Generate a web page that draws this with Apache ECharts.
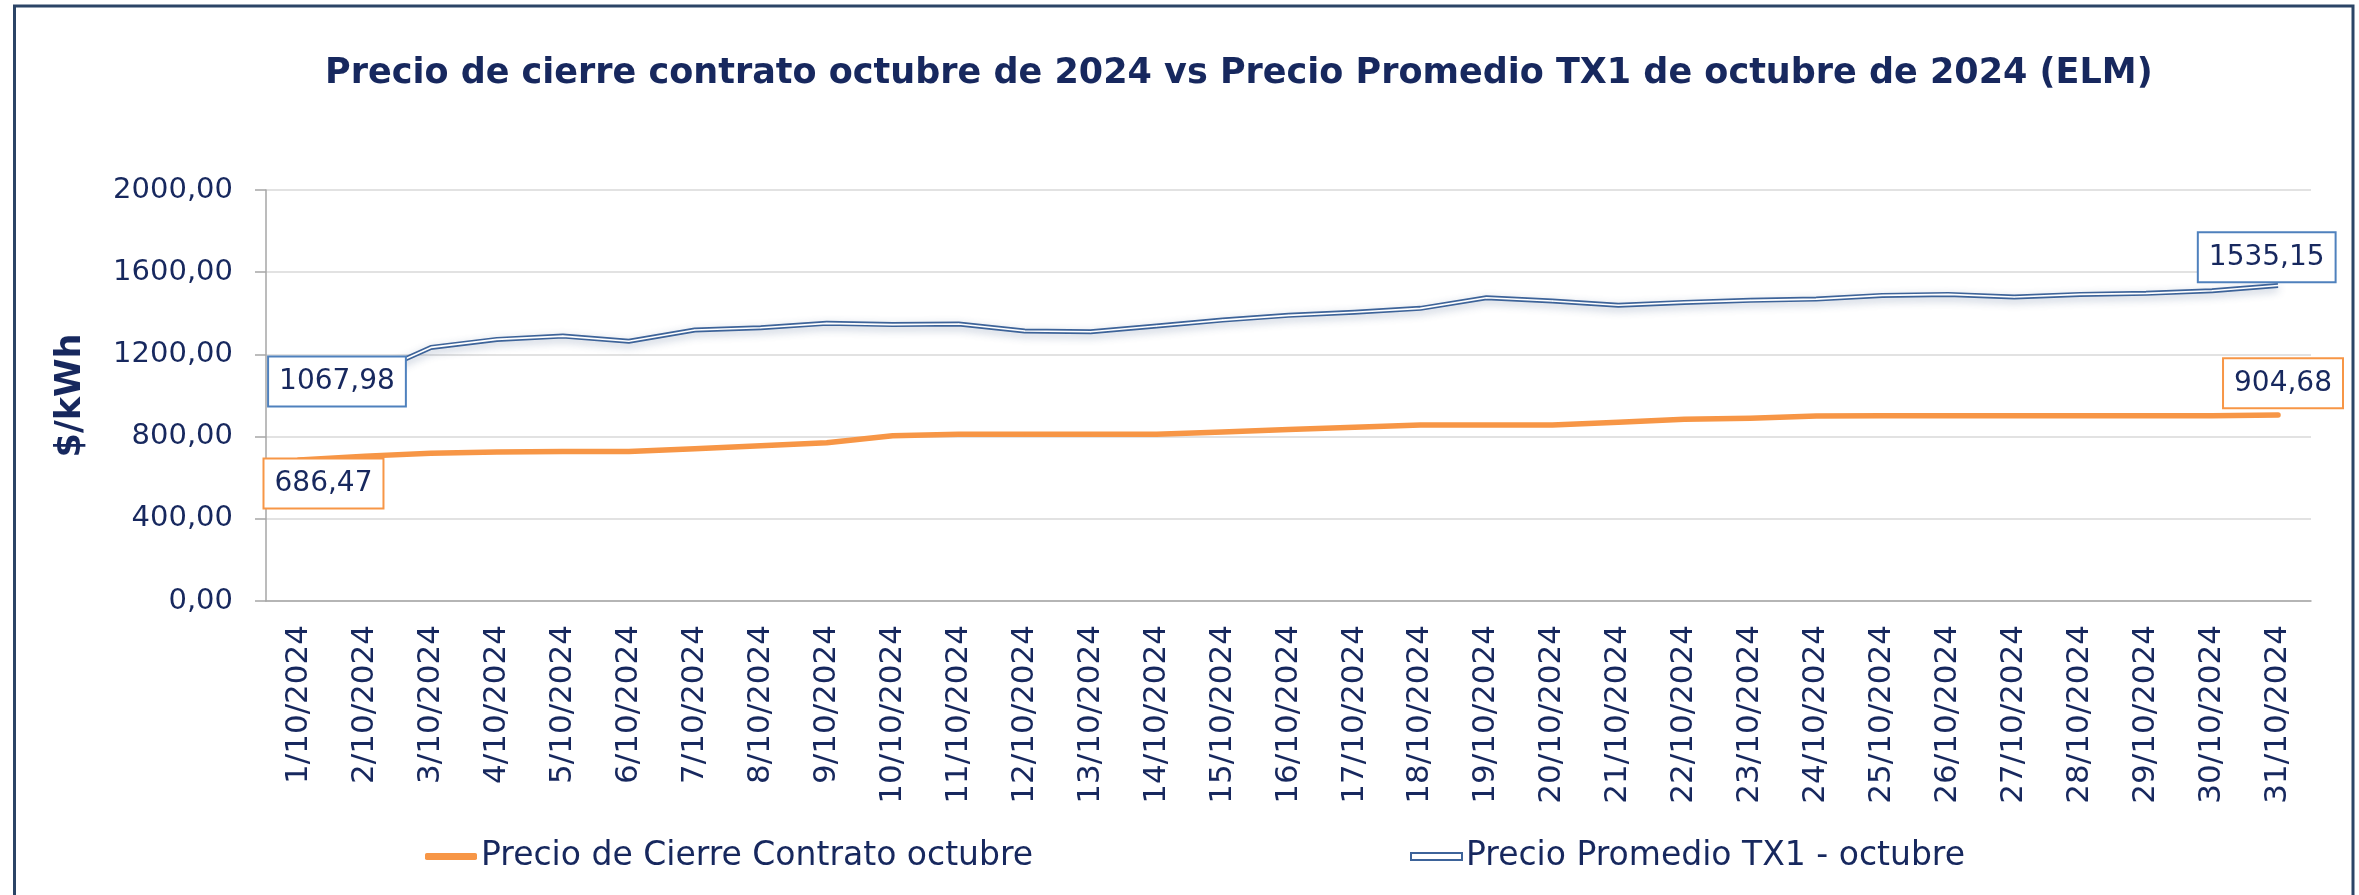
<!DOCTYPE html>
<html>
<head>
<meta charset="utf-8">
<script src="https://cdn.jsdelivr.net/npm/echarts@6/dist/echarts.min.js"></script>
<style>
html,body{margin:0;padding:0;background:#fff;}
#chart{width:2359px;height:895px;}
</style>
</head>
<body>
<div id="chart"></div>
<script>
const categories = ['1/10/2024','2/10/2024','3/10/2024','4/10/2024','5/10/2024','6/10/2024','7/10/2024','8/10/2024','9/10/2024','10/10/2024','11/10/2024','12/10/2024','13/10/2024','14/10/2024','15/10/2024','16/10/2024','17/10/2024','18/10/2024','19/10/2024','20/10/2024','21/10/2024','22/10/2024','23/10/2024','24/10/2024','25/10/2024','26/10/2024','27/10/2024','28/10/2024','29/10/2024','30/10/2024','31/10/2024'];
const cierreContrato = [686.47,705,719,725,727,727,741,756,770,804,811,811,811,811,822,834,845,856,856,856,870,884,889,900,901,901,901,901,902,902,904.68];
const promedioTX1 = [1067.98,1090,1234,1273,1289,1264,1319,1330,1351,1345,1348,1314,1310,1338,1367,1390,1405,1424,1476,1460,1439,1453,1463,1469,1487,1492,1479,1492,1497,1510,1535.15];
const yTicks = [0,400,800,1200,1600,2000];
const seriesNames = ['Precio de Cierre Contrato octubre','Precio Promedio TX1 - octubre'];

const NAVY = '#17285e';
const ORANGE = '#f79646';
const BLUE = '#3d6399';
const FONT = 'DejaVu Sans';
const fmt = v => Number(v).toFixed(2).replace('.', ',');

function endLabel(borderColor, offset) {
  return {
    show: true, position: 'inside', offset: offset,
    formatter: p => fmt(p.value),
    color: NAVY, fontFamily: FONT, fontSize: 28, lineHeight: 34,
    backgroundColor: '#fff', borderColor: borderColor, borderWidth: 2,
    padding: [7, 10]
  };
}
function withLabels(arr, color, firstOff, lastOff) {
  return arr.map((v, i) => {
    if (i === 0) return {value: v, label: endLabel(color, firstOff)};
    if (i === arr.length - 1) return {value: v, label: endLabel(color, lastOff)};
    return v;
  });
}

const chart = echarts.init(document.getElementById('chart'), null, {renderer: 'canvas'});
chart.setOption({
  animation: false,
  backgroundColor: '#fff',
  title: {
    text: 'Precio de cierre contrato octubre de 2024 vs Precio Promedio TX1 de octubre de 2024 (ELM)',
    left: 320, top: 51,
    textStyle: {color: NAVY, fontFamily: FONT, fontWeight: 'bold', fontSize: 35}
  },
  graphic: [{
    type: 'rect', silent: true, z: 100,
    shape: {x: 14.5, y: 6, width: 2338.5, height: 960},
    style: {fill: 'none', stroke: '#2b4466', lineWidth: 3}
  }],
  legend: [{
    left: 420, top: 835, itemWidth: 52, itemHeight: 7, itemGap: 5,
    data: [{name: seriesNames[0], icon: 'roundRect', itemStyle: {color: ORANGE}}],
    textStyle: {color: NAVY, fontFamily: FONT, fontSize: 33, padding: [0,0,0,-1]}
  }, {
    left: 1405, top: 835, itemWidth: 51, itemHeight: 7,
    data: [{name: seriesNames[1], icon: 'rect', itemStyle: {color: '#fff', borderColor: BLUE, borderWidth: 2}}],
    textStyle: {color: NAVY, fontFamily: FONT, fontSize: 33, padding: [0,0,0,-1]}
  }],
  grid: {left: 266, right: 48, top: 190, bottom: 294, containLabel: false},
  xAxis: {
    type: 'category', data: categories, boundaryGap: true,
    axisLine: {lineStyle: {color: '#a6a6a6', width: 1.5}},
    axisTick: {show: false},
    axisLabel: {rotate: 90, margin: 24, interval: 0, color: NAVY, fontFamily: FONT, fontSize: 31}
  },
  yAxis: {
    type: 'value', min: 0, max: 2000, interval: 400,
    name: '$/kWh', nameLocation: 'middle', nameRotate: 90, nameGap: 178,
    nameTextStyle: {color: NAVY, fontFamily: FONT, fontWeight: 'bold', fontSize: 35},
    axisLine: {show: true, lineStyle: {color: '#a6a6a6', width: 1.5}},
    axisTick: {show: true, length: 11, lineStyle: {color: '#a6a6a6', width: 1.5}},
    splitLine: {lineStyle: {color: '#d9d9d9', width: 1.5}},
    axisLabel: {margin: 33, color: NAVY, fontFamily: FONT, fontSize: 29,
      formatter: v => yTicks.indexOf(v) >= 0 ? fmt(v) : ''}
  },
  series: [{
    name: seriesNames[0], type: 'line', z: 3,
    data: withLabels(cierreContrato, ORANGE, [24.5, 23.5], [5, -31.8]),
    showSymbol: true, showAllSymbol: true, symbol: 'circle', symbolSize: 1,
    itemStyle: {color: ORANGE},
    lineStyle: {color: ORANGE, width: 5.5, cap: 'round', join: 'round'},
    label: {show: false}
  }, {
    name: seriesNames[1], type: 'line', z: 2,
    data: promedioTX1,
    showSymbol: false, symbol: 'none',
    itemStyle: {color: BLUE},
    lineStyle: {color: BLUE, width: 5, join: 'round',
      shadowBlur: 8, shadowColor: 'rgba(40,70,120,0.3)', shadowOffsetY: 3}
  }, {
    name: '_inner', type: 'line', z: 4,
    data: withLabels(promedioTX1, '#4f81bd', [38, 0], [-11.3, -28.2]),
    showSymbol: true, showAllSymbol: true, symbol: 'circle', symbolSize: 1,
    itemStyle: {color: '#fff'},
    lineStyle: {color: '#fff', width: 1.6, join: 'round'},
    label: {show: false}
  }]
});
</script>
</body>
</html>
